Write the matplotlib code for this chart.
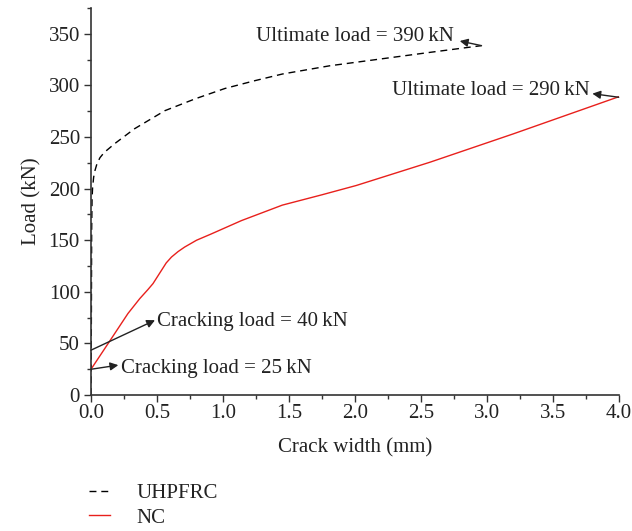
import matplotlib
matplotlib.use("Agg")
import matplotlib.pyplot as plt
from matplotlib.ticker import MultipleLocator

plt.rcParams['font.family'] = ['Liberation Serif', 'DejaVu Serif']

# UHPFRC curve
uh_x = [0.0, 0.003, 0.005, 0.008, 0.012, 0.02, 0.03, 0.045, 0.068, 0.1, 0.18, 0.33, 0.56, 0.79, 1.015, 1.24, 1.45, 1.81, 2.19, 2.57, 2.96]
uh_y = [0, 80, 160, 190, 201, 211, 217.5, 224, 230, 235, 243.6, 258, 275.5, 287, 297, 304.5, 311, 319, 325.5, 332, 338.5]

# NC curve
nc_x = [0.0, 0.13, 0.28, 0.37, 0.43, 0.47, 0.5, 0.535, 0.57, 0.61, 0.66, 0.71, 0.8, 0.91, 1.14, 1.45, 1.75, 2.01, 2.57, 3.2, 4.0]
nc_y = [25, 50, 79, 93.5, 102, 108, 114, 121, 128, 133.7, 139, 143.4, 150, 156, 169, 184, 194, 203, 225.6, 253, 289]

series_labels = ["UHPFRC", "NC"]
x_ticks = [0.0, 0.5, 1.0, 1.5, 2.0, 2.5, 3.0, 3.5, 4.0]
y_ticks = [0, 50, 100, 150, 200, 250, 300, 350]

FS = 15

fig = plt.figure(figsize=(6.32, 5.31), dpi=100)
ax = fig.add_axes([0.144, 0.256, 0.835, 0.729])

l1, = ax.plot(uh_x, uh_y, color='black', linestyle=(0, (5, 3.5)), linewidth=1.0, label=series_labels[0])
l2, = ax.plot(nc_x, nc_y, color='#e8201c', linewidth=1.0, label=series_labels[1])

ax.set_xlim(0, 4.0)
ax.set_ylim(0, 375)
ax.set_xticks(x_ticks)
ax.set_xticklabels([f"{v:.1f}" for v in x_ticks])
ax.set_yticks(y_ticks)
ax.xaxis.set_minor_locator(MultipleLocator(0.25))
ax.yaxis.set_minor_locator(MultipleLocator(25))
ax.tick_params(which='major', direction='out', length=5, width=1, labelsize=FS, color='#333333', labelcolor='#222222', pad=3)
ax.tick_params(axis='x', which='major', pad=1.5)
ax.tick_params(which='minor', direction='out', length=3, width=1, color='#333333')
for s in ['top', 'right']:
    ax.spines[s].set_visible(False)
for s in ['left', 'bottom']:
    ax.spines[s].set_color('#333333')
    ax.spines[s].set_linewidth(1.2)
ax.spines['bottom'].set_bounds(0, 4.0)

ax.set_xlabel("Crack width (mm)", fontsize=FS, color='#222222', labelpad=11)
ax.set_ylabel("Load (kN)", fontsize=FS, color='#222222', labelpad=5)

akw = dict(arrowstyle='-|>', color='#222222', lw=1.0, mutation_scale=12, shrinkA=0, shrinkB=0)
tkw = dict(fontsize=FS, color='#222222', va='center')
ax.annotate("", xy=(0.485, 72.5), xytext=(0.0, 43.5), arrowprops=akw)
ax.text(0.5, 71, "Cracking load = 40\u2009kN", ha='left', **tkw)
ax.annotate("", xy=(0.207, 29), xytext=(0.0, 25), arrowprops=akw)
ax.text(0.227, 26, "Cracking load = 25\u2009kN", ha='left', **tkw)
ax.annotate("", xy=(2.795, 343), xytext=(2.96, 338.5), arrowprops=akw)
ax.text(2.75, 347, "Ultimate load = 390\u2009kN", ha='right', **tkw)
ax.annotate("", xy=(3.80, 292), xytext=(4.0, 288.5), arrowprops=akw)
ax.text(3.78, 295, "Ultimate load = 290\u2009kN", ha='right', **tkw)
for t in ax.texts:
    t.set_clip_on(False)

leg = fig.legend(handles=[l1, l2], loc='upper left', bbox_to_anchor=(0.111, 0.125),
                 frameon=False, fontsize=FS, handlelength=1.0, handletextpad=1.3, labelspacing=0.25)
for t in leg.get_texts():
    t.set_color('#222222')

fig.savefig("out.png", dpi=100)
